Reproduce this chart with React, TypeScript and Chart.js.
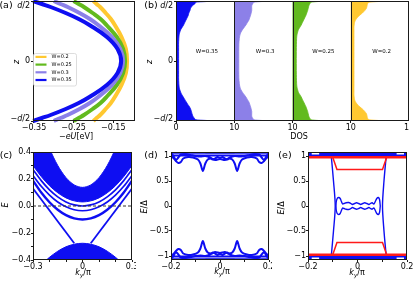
import React, { useEffect, useRef } from 'react';
import { Chart, registerables } from 'chart.js';

Chart.register(...registerables);

const FONT = "'DejaVu Sans', 'Liberation Sans', sans-serif";
const INK = '#1a1a1a';
const BLUE = 'rgb(14,14,242)';
const PURPLE = 'rgb(140,128,232)';
const GREEN = 'rgb(98,186,30)';
const YELLOW = 'rgb(255,200,48)';
const RED = 'rgb(255,26,26)';
const GREY = 'rgb(165,165,165)';

// ---------- (a) potential profiles -eU(z) ----------
const zA = [-0.5, -0.475, -0.45, -0.4, -0.35, -0.3, -0.2, -0.1, 0, 0.1, 0.2, 0.3, 0.35, 0.4, 0.45, 0.475, 0.5];
const potW020 = [-0.200, -0.192, -0.183, -0.169, -0.156, -0.146, -0.129, -0.118, -0.115, -0.118, -0.129, -0.146, -0.156, -0.169, -0.183, -0.192, -0.200];
const potW025 = [-0.250, -0.237, -0.224, -0.202, -0.182, -0.167, -0.141, -0.125, -0.120, -0.125, -0.141, -0.167, -0.182, -0.202, -0.224, -0.237, -0.250];
const potW030 = [-0.300, -0.283, -0.265, -0.235, -0.209, -0.188, -0.153, -0.132, -0.125, -0.132, -0.153, -0.188, -0.209, -0.235, -0.265, -0.283, -0.300];
const potW035 = [-0.352, -0.330, -0.308, -0.270, -0.237, -0.210, -0.166, -0.139, -0.130, -0.139, -0.166, -0.210, -0.237, -0.270, -0.308, -0.330, -0.352];
const wLabels = ['W=0.2', 'W=0.25', 'W=0.3', 'W=0.35'];
const wColors = [YELLOW, GREEN, PURPLE, BLUE];
const aXTicks = [-0.35, -0.25, -0.15];
const aXLabels = ['−0.35', '−0.25', '−0.15'];
const zTicks = [-0.5, 0, 0.5];
const zLabels = ['−d/2', '0', 'd/2'];

// ---------- (b) local DOS ----------
const zB = [-0.5, -0.495, -0.49, -0.48, -0.46, -0.44, -0.42, -0.4, -0.38, -0.36, -0.34, -0.32, -0.3, -0.28, -0.26, -0.24, -0.22, -0.2, -0.15, -0.1, 0,
  0.1, 0.15, 0.2, 0.22, 0.24, 0.26, 0.28, 0.3, 0.32, 0.34, 0.36, 0.38, 0.4, 0.42, 0.44, 0.46, 0.48, 0.49, 0.495, 0.5];
const dosW035 = [6.7, 5.0, 3.4, 3.2, 2.9, 2.75, 2.65, 2.5, 2.3, 2.0, 1.75, 1.5, 1.25, 1.0, 0.8, 0.65, 0.55, 0.5, 0.45, 0.45, 0.45,
  0.45, 0.45, 0.5, 0.55, 0.65, 0.8, 1.05, 1.3, 1.5, 1.7, 1.9, 2.1, 2.2, 2.4, 2.5, 2.8, 3.3, 3.4, 5.0, 6.7];
const dosW030 = [6.2, 4.5, 3.4, 3.2, 3.0, 3.0, 3.0, 2.9, 2.8, 2.65, 2.5, 2.25, 2.0, 1.7, 1.4, 1.15, 1.0, 0.9, 0.8, 0.78, 0.78,
  0.78, 0.8, 0.9, 1.0, 1.15, 1.4, 1.7, 2.0, 2.25, 2.5, 2.65, 2.8, 2.9, 3.0, 3.0, 3.0, 3.2, 3.4, 4.5, 6.2];
const dosW025 = [5.9, 4.2, 3.2, 3.0, 2.8, 2.7, 2.6, 2.45, 2.3, 2.1, 1.9, 1.7, 1.5, 1.25, 1.0, 0.88, 0.78, 0.72, 0.68, 0.66, 0.65,
  0.66, 0.68, 0.72, 0.78, 0.88, 1.0, 1.25, 1.5, 1.7, 1.9, 2.1, 2.3, 2.45, 2.6, 2.7, 2.8, 3.0, 3.2, 4.2, 5.9];
const dosW020 = [6.2, 4.5, 3.2, 2.9, 2.8, 2.7, 2.4, 2.0, 1.5, 1.1, 0.8, 0.65, 0.58, 0.55, 0.55, 0.55, 0.55, 0.55, 0.55, 0.55, 0.55,
  0.55, 0.55, 0.55, 0.55, 0.55, 0.55, 0.55, 0.58, 0.65, 0.8, 1.1, 1.5, 2.0, 2.4, 2.7, 2.8, 2.9, 3.2, 4.5, 6.2];
const dosPanels = [dosW035, dosW030, dosW025, dosW020];
const dosNames = ['W=0.35', 'W=0.3', 'W=0.25', 'W=0.2'];
const dosColors = [BLUE, PURPLE, GREEN, YELLOW];
const dosPanelWidth = 10;
const bXTicks = [0, 10, 20, 30, 40];
const bXLabels = ['0', '10', '10', '10', '10'];

// ---------- (c) band structure ----------
const kC = [-0.3, -0.25, -0.2, -0.15, -0.1, -0.05, 0, 0.05, 0.1, 0.15, 0.2, 0.25, 0.3];
const bandTopC = [0.786, 0.588, 0.426, 0.300, 0.210, 0.156, 0.138, 0.156, 0.210, 0.300, 0.426, 0.588, 0.786];
const bandBottomC = [0.300, 0.218, 0.150, 0.098, 0.060, 0.038, 0.030, 0.038, 0.060, 0.098, 0.150, 0.218, 0.300];
const sub1C = [0.270, 0.188, 0.120, 0.068, 0.030, 0.008, 0.000, 0.008, 0.030, 0.068, 0.120, 0.188, 0.270];
const sub2C = [0.226, 0.146, 0.081, 0.030, -0.006, -0.028, -0.035, -0.028, -0.006, 0.030, 0.081, 0.146, 0.226];
const sub3C = [0.188, 0.100, 0.028, -0.028, -0.068, -0.092, -0.100, -0.092, -0.068, -0.028, 0.028, 0.100, 0.188];
const edgeLeftKC = [-0.3, -0.05];
const edgeRightKC = [0.05, 0.3];
const edgeLeftEC = [0.13, -0.276];
const edgeRightEC = [-0.276, 0.13];
const kDomeC = [-0.22, -0.2, -0.15, -0.1, -0.05, 0, 0.05, 0.1, 0.15, 0.2, 0.22];
const domeC = [-0.402, -0.380, -0.335, -0.302, -0.283, -0.276, -0.283, -0.302, -0.335, -0.380, -0.402];
const zeroKC = [-0.3, 0.3];
const zeroEC = [0, 0];
const cXTicks = [-0.3, -0.2, -0.1, 0, 0.1, 0.2, 0.3];
const cXLabels = ['−0.3', '', '', '0', '', '', '0.3'];
const cYTicks = [-0.4, -0.3, -0.2, -0.1, 0, 0.1, 0.2, 0.3, 0.4];
const cYLabels = ['−0.4', '', '−0.2', '', '0.0', '', '0.2', '', '0.4'];

// ---------- (d) subgap spectrum ----------
const kD1 = [-0.2, -0.19, -0.18, -0.17, -0.16, -0.15, -0.13, -0.11, -0.09, -0.08, -0.07, -0.06, -0.05, -0.035, -0.02, 0,
  0.02, 0.035, 0.05, 0.06, 0.07, 0.08, 0.09, 0.11, 0.13, 0.15, 0.16, 0.17, 0.18, 0.19, 0.2];
const eD1 = [1.0, 0.96, 0.9, 0.86, 0.88, 0.95, 0.98, 0.97, 0.93, 0.85, 0.70, 0.85, 0.93, 0.95, 0.92, 0.94,
  0.92, 0.95, 0.93, 0.85, 0.70, 0.85, 0.93, 0.97, 0.98, 0.95, 0.88, 0.86, 0.9, 0.96, 1.0];
const kD2 = [-0.2, -0.19, -0.18, -0.17, -0.16, -0.14, -0.12, -0.1, -0.08, -0.06, -0.04, -0.03, -0.02, -0.01, 0,
  0.01, 0.02, 0.03, 0.04, 0.06, 0.08, 0.1, 0.12, 0.14, 0.16, 0.17, 0.18, 0.19, 0.2];
const eD2 = [1.06, 1.0, 0.92, 0.97, 1.03, 1.04, 1.02, 1.0, 0.99, 1.0, 0.97, 0.93, 0.95, 0.98, 0.96,
  0.98, 0.95, 0.93, 0.97, 1.0, 0.99, 1.0, 1.02, 1.04, 1.03, 0.97, 0.92, 1.0, 1.06];
const kDFlat = [-0.2, 0.2];
const eDFlat1 = [1.065, 1.065];
const eDFlat2 = [1.012, 1.012];
const kDGrey = [-0.06, 0.06];
const eDGrey = [1.072, 1.072];
const deXTicks = [-0.2, -0.1, 0, 0.1, 0.2];
const deXLabels = ['−0.2', '', '0', '', '0.2'];
const deYTicks = [-1, -0.5, 0, 0.5, 1];
const deYLabels = ['−1', '−0.5', '0', '0.5', '1'];

// ---------- (e) subgap spectrum with red levels ----------
const kEFull = [-0.2, 0.2];
const eBandEdge = [1.1, 1.1];
const eRedLevel = [0.975, 0.975];
const kETrap = [-0.1, -0.083, 0.101, 0.118];
const eETrap = [0.975, 0.73, 0.73, 0.975];
const eEdgeE = [1.0, 0.5, 0, -0.5, -1.0];
const eEdgeLeftK = [-0.106, -0.097, -0.09, -0.097, -0.106];
const eEdgeRightK = [0.116, 0.107, 0.101, 0.107, 0.116];
const kELoop = [-0.087, -0.086, -0.082, -0.076, -0.07, -0.065, -0.06, -0.054, -0.046, -0.036, -0.027, -0.02, -0.012, -0.004,
  0.005, 0.013, 0.021, 0.029, 0.038, 0.046, 0.052, 0.059, 0.066, 0.072, 0.078, 0.084, 0.089, 0.092];
const eELoop = [0.0, 0.08, 0.15, 0.17, 0.15, 0.09, 0.04, 0.05, 0.065, 0.07, 0.05, 0.03, 0.05, 0.065,
  0.05, 0.03, 0.05, 0.065, 0.05, 0.03, 0.05, 0.065, 0.04, 0.09, 0.15, 0.17, 0.13, 0.0];
const kEHoleL = [-0.185, -0.155];
const kEHoleR = [0.158, 0.188];
const eEHole = [1.055, 1.055];

// ---------- helpers ----------
type Pt = { x: number; y: number };
const pts = (xs: number[], ys: number[]): Pt[] => xs.map((x, i) => ({ x, y: ys[i] }));
const neg = (ys: number[]) => ys.map((v) => -v);

const line = (data: Pt[], color: string, width: number, extra: any = {}) => ({
  data, borderColor: color, backgroundColor: color, borderWidth: width,
  pointRadius: 0, tension: 0.3, fill: false, showLine: true, clip: 0, ...extra,
});

function xAxis(min: number, max: number, ticks: number[], labels: string[], height: number) {
  return {
    type: 'linear', min, max, position: 'bottom',
    afterBuildTicks: (s: any) => { s.ticks = ticks.map((value) => ({ value })); },
    afterFit: (s: any) => { s.height = height; s.paddingLeft = 0; s.paddingRight = 0; },
    ticks: {
      autoSkip: false, maxRotation: 0, minRotation: 0, padding: 0, color: '#000',
      font: { family: FONT, size: 8 }, callback: (_v: any, i: number) => labels[i] ?? '',
    },
    grid: { drawOnChartArea: false, drawTicks: true, tickLength: 2, color: INK, lineWidth: 1 },
    border: { display: false },
  };
}

function yAxis(min: number, max: number, ticks: number[], labels: string[] | null, width: number) {
  return {
    type: 'linear', min, max, position: 'left',
    afterBuildTicks: (s: any) => { s.ticks = ticks.map((value) => ({ value })); },
    afterFit: (s: any) => { s.width = width; s.paddingTop = 0; s.paddingBottom = 0; },
    ticks: {
      display: labels !== null, autoSkip: false, padding: 0, color: '#000',
      font: { family: FONT, size: 8 }, callback: (_v: any, i: number) => (labels ? labels[i] ?? '' : ''),
    },
    grid: { drawOnChartArea: false, drawTicks: true, tickLength: 2, color: INK, lineWidth: 1 },
    border: { display: false },
  };
}

function baseOptions(padding: any, scales: any, indexAxis: 'x' | 'y' = 'x') {
  return {
    indexAxis, responsive: false, maintainAspectRatio: false, animation: false, devicePixelRatio: 1,
    events: [], layout: { padding }, scales,
    plugins: { legend: { display: false }, tooltip: { enabled: false } },
  };
}

const framePlugin = {
  id: 'frame',
  afterDatasetsDraw(chart: any) {
    const { ctx, chartArea: a } = chart;
    ctx.save();
    ctx.strokeStyle = INK;
    ctx.lineWidth = 1;
    ctx.strokeRect(Math.round(a.left) + 0.5, Math.round(a.top) + 0.5,
      Math.round(a.right - a.left) - 1, Math.round(a.bottom - a.top) - 1);
    ctx.restore();
  },
};

function drawRich(ctx: CanvasRenderingContext2D, text: string, xRight: number, y: number, size: number) {
  const segs = [...text].map((ch) => ({ ch, it: /[a-zA-Z]/.test(ch) }));
  const fontOf = (it: boolean) => `${it ? 'italic ' : ''}${size}px ${FONT}`;
  let w = 0;
  segs.forEach((s) => { ctx.font = fontOf(s.it); w += ctx.measureText(s.ch).width; });
  let x = xRight - w;
  ctx.textAlign = 'left';
  ctx.textBaseline = 'middle';
  segs.forEach((s) => { ctx.font = fontOf(s.it); ctx.fillText(s.ch, x, y); x += ctx.measureText(s.ch).width; });
}

const zLabelPlugin = {
  id: 'zLabels',
  afterDraw(chart: any) {
    const s = chart.scales.y;
    const a = chart.chartArea;
    const ctx = chart.ctx;
    ctx.save();
    ctx.fillStyle = '#000';
    zTicks.forEach((v, i) => {
      const y = Math.min(Math.max(s.getPixelForValue(v), a.top + 4.5), a.bottom - 2.5);
      drawRich(ctx, zLabels[i], a.left - 3, y, 8);
    });
    ctx.restore();
  },
};

const legendAPlugin = {
  id: 'legendA',
  afterDraw(chart: any) {
    const a = chart.chartArea;
    const ctx = chart.ctx;
    const x0 = a.left + 0.5;
    const y0 = 53.5;
    ctx.save();
    ctx.fillStyle = 'rgba(255,255,255,0.85)';
    ctx.strokeStyle = '#d4d4d4';
    ctx.lineWidth = 0.8;
    ctx.beginPath();
    (ctx as any).roundRect(x0, y0, 43, 32.5, 2);
    ctx.fill();
    ctx.stroke();
    wLabels.forEach((lab, i) => {
      const y = y0 + 3.4 + i * 7.7;
      ctx.strokeStyle = wColors[i];
      ctx.lineWidth = 2.2;
      ctx.beginPath();
      ctx.moveTo(x0 + 2, y);
      ctx.lineTo(x0 + 13, y);
      ctx.stroke();
      ctx.fillStyle = '#000';
      ctx.font = `5px ${FONT}`;
      ctx.textAlign = 'left';
      ctx.textBaseline = 'middle';
      ctx.fillText(lab, x0 + 18, y);
    });
    ctx.restore();
  },
};

const dosPlugin = {
  id: 'dosDecor',
  afterDatasetsDraw(chart: any) {
    const xs = chart.scales.x;
    const ys = chart.scales.y;
    const a = chart.chartArea;
    const ctx = chart.ctx;
    ctx.save();
    ctx.strokeStyle = INK;
    ctx.lineWidth = 1;
    for (let i = 1; i < dosPanels.length; i++) {
      const x = Math.round(xs.getPixelForValue(i * dosPanelWidth)) + 0.5;
      ctx.beginPath();
      ctx.moveTo(x, a.top);
      ctx.lineTo(x, a.bottom);
      ctx.stroke();
    }
    ctx.fillStyle = '#000';
    ctx.font = `5.5px ${FONT}`;
    ctx.textAlign = 'center';
    ctx.textBaseline = 'middle';
    dosNames.forEach((n, i) => {
      ctx.fillText(n, xs.getPixelForValue(i * dosPanelWidth + 5.3), ys.getPixelForValue(0.075));
    });
    ctx.restore();
  },
};

// ---------- chart configs ----------
function configA() {
  const order = [3, 2, 1, 0];
  const pots = [potW020, potW025, potW030, potW035];
  return {
    type: 'line',
    data: {
      datasets: order.map((i) => line(pts(pots[i], zA), wColors[i], 4, { tension: 0.4, clip: 2 })),
    },
    options: baseOptions({ left: 0, top: 1, right: 5, bottom: 0 }, {
      x: xAxis(-0.3525, -0.095, aXTicks, aXLabels, 20),
      y: yAxis(-0.5, 0.5, zTicks, null, 33),
    }, 'y'),
    plugins: [framePlugin, zLabelPlugin, legendAPlugin],
  };
}

function configB() {
  return {
    type: 'line',
    data: {
      datasets: dosPanels.map((dos, i) => line(
        pts(dos.map((d) => d + i * dosPanelWidth), zB), dosColors[i], 0.8,
        { tension: 0.2, fill: { value: i * dosPanelWidth } },
      )),
    },
    options: baseOptions({ left: 0, top: 1, right: 0, bottom: 0 }, {
      x: xAxis(0, 40, bXTicks, bXLabels, 20),
      y: yAxis(-0.5, 0.5, zTicks, null, 35),
    }, 'y'),
    plugins: [framePlugin, zLabelPlugin, dosPlugin],
  };
}

function configC() {
  return {
    type: 'scatter',
    data: {
      datasets: [
        line(pts(zeroKC, zeroEC), '#333', 1, { borderDash: [3, 2], tension: 0 }),
        line(pts(edgeLeftKC, edgeLeftEC), BLUE, 1.8, { tension: 0 }),
        line(pts(edgeRightKC, edgeRightEC), BLUE, 1.8, { tension: 0 }),
        line(pts(kC, sub1C), BLUE, 1.7),
        line(pts(kC, sub2C), BLUE, 1.7),
        line(pts(kC, sub3C), BLUE, 2.4),
        line(pts(kC, bandTopC), BLUE, 1, { fill: '+1' }),
        line(pts(kC, bandBottomC), BLUE, 1),
        line(pts(kDomeC, domeC), BLUE, 1, { fill: 'start' }),
      ],
    },
    options: baseOptions({ left: 0, top: 11, right: 4, bottom: 0 }, {
      x: xAxis(-0.3, 0.3, cXTicks, cXLabels, 21),
      y: yAxis(-0.4, 0.4, cYTicks, cYLabels, 33),
    }),
    plugins: [framePlugin],
  };
}

function configD() {
  const w = 2;
  const ds: any[] = [
    line(pts(kD1, eD1), BLUE, w), line(pts(kD1, neg(eD1)), BLUE, w),
    line(pts(kD2, eD2), BLUE, w), line(pts(kD2, neg(eD2)), BLUE, w),
    line(pts(kDFlat, eDFlat1), BLUE, w, { tension: 0 }), line(pts(kDFlat, neg(eDFlat1)), BLUE, w, { tension: 0 }),
    line(pts(kDFlat, eDFlat2), BLUE, w, { tension: 0 }), line(pts(kDFlat, neg(eDFlat2)), BLUE, w, { tension: 0 }),
    line(pts(kDGrey, eDGrey), GREY, 2.5, { tension: 0 }), line(pts(kDGrey, neg(eDGrey)), GREY, 2.5, { tension: 0 }),
  ];
  return {
    type: 'scatter',
    data: { datasets: ds },
    options: baseOptions({ left: 0, top: 11, right: 3, bottom: 0 }, {
      x: xAxis(-0.2, 0.2, deXTicks, deXLabels, 21),
      y: yAxis(-1.08, 1.08, deYTicks, deYLabels, 35),
    }),
    plugins: [framePlugin],
  };
}

function configE() {
  const ds: any[] = [
    line(pts(kEHoleL, eEHole), '#fff', 2.5, { tension: 0 }), line(pts(kEHoleR, eEHole), '#fff', 2.5, { tension: 0 }),
    line(pts(kEHoleL, neg(eEHole)), '#fff', 2.5, { tension: 0 }), line(pts(kEHoleR, neg(eEHole)), '#fff', 2.5, { tension: 0 }),
    line(pts(kEFull, eRedLevel), RED, 2.4, { tension: 0 }), line(pts(kEFull, neg(eRedLevel)), RED, 2.4, { tension: 0 }),
    line(pts(kETrap, eETrap), RED, 1.5, { tension: 0 }), line(pts(kETrap, neg(eETrap)), RED, 1.5, { tension: 0 }),
    line(pts(kELoop, eELoop), BLUE, 1.4), line(pts(kELoop, neg(eELoop)), BLUE, 1.4),
    line(pts(eEdgeLeftK, eEdgeE), BLUE, 1.4), line(pts(eEdgeRightK, eEdgeE), BLUE, 1.4),
    line(pts(kEFull, eBandEdge), BLUE, 1, { tension: 0, fill: { value: 0.995 } }),
    line(pts(kEFull, neg(eBandEdge)), BLUE, 1, { tension: 0, fill: { value: -0.995 } }),
  ];
  return {
    type: 'scatter',
    data: { datasets: ds },
    options: baseOptions({ left: 0, top: 11, right: 8, bottom: 0 }, {
      x: xAxis(-0.2, 0.2, deXTicks, deXLabels, 21),
      y: yAxis(-1.08, 1.08, deYTicks, deYLabels, 36),
    }),
    plugins: [framePlugin],
  };
}

// ---------- components ----------
function Panel({ x, y, w, h, make }: { x: number; y: number; w: number; h: number; make: () => any }) {
  const ref = useRef<HTMLCanvasElement>(null);
  useEffect(() => {
    const chart = new Chart(ref.current as HTMLCanvasElement, make());
    return () => chart.destroy();
  }, []);
  return <canvas ref={ref} width={w} height={h} style={{ position: 'absolute', left: x, top: y, width: w, height: h }} />;
}

function Label({ x, y, size = 8, rotate = false, children }: any) {
  return (
    <div style={{
      position: 'absolute', left: x, top: y, transform: `translate(-50%,-50%)${rotate ? ' rotate(-90deg)' : ''}`,
      fontFamily: FONT, fontSize: size, lineHeight: 1, whiteSpace: 'nowrap', color: '#000',
    }}>{children}</div>
  );
}

const Ky = () => (
  <span><i>k</i><span style={{ fontSize: '70%', position: 'relative', top: '0.35em' }}><i>y</i></span>/π</span>
);

export default function App() {
  return (
    <div style={{ position: 'absolute', left: 0, top: 0, width: 415, height: 281, background: '#fff', overflow: 'hidden' }}>
      <Panel x={0} y={0} w={140} h={141} make={configA} />
      <Panel x={141} y={0} w={268} h={141} make={configB} />
      <Panel x={0} y={141} w={136} h={140} make={configC} />
      <Panel x={136} y={141} w={136} h={140} make={configD} />
      <Panel x={272} y={141} w={143} h={140} make={configE} />

      <Label x={6} y={5} size={9.5}>(a)</Label>
      <Label x={151} y={5} size={9.5}>(b)</Label>
      <Label x={6} y={155} size={9.5}>(c)</Label>
      <Label x={151} y={155} size={9.5}>(d)</Label>
      <Label x={285} y={155} size={9.5}>(e)</Label>

      <Label x={17} y={61.5} rotate><i>z</i></Label>
      <Label x={150} y={61.5} rotate><i>z</i></Label>
      <Label x={6} y={205} rotate><i>E</i></Label>
      <Label x={145} y={207} rotate><span><i>E</i>/Δ</span></Label>
      <Label x={282} y={208} rotate><span><i>E</i>/Δ</span></Label>

      <Label x={76} y={137}><span>−<i>eU</i>[eV]</span></Label>
      <Label x={299} y={137}>DOS</Label>
      <Label x={83} y={273}><Ky /></Label>
      <Label x={222} y={272}><Ky /></Label>
      <Label x={357} y={273}><Ky /></Label>
    </div>
  );
}
